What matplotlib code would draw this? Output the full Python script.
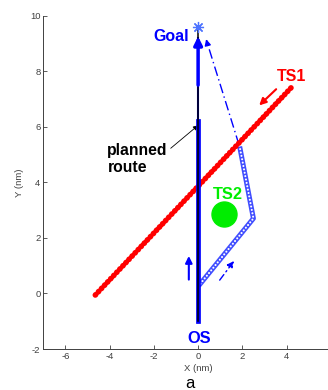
import matplotlib
matplotlib.use("Agg")
import matplotlib.pyplot as plt

plt.rcParams["font.family"] = ["Liberation Sans", "DejaVu Sans"]
plt.rcParams["axes.unicode_minus"] = False

# target ship 1: straight run, start / end positions (nm)
ts1_x = [4.2, -4.7]
ts1_y = [7.4, -0.1]

# target ship 2 (stationary)
ts2_x = [1.15]
ts2_y = [2.85]

# own ship: planned route, straight track, avoidance leg, return leg
goal = (0.0, 9.6)
plan_x = [0.0, 0.0]
plan_y = [-1.0, 9.6]
track_x = [0.0, 0.0, 0.0]
track_y = [-1.0, 6.2, 9.2]
avoid_x = [0.1, 2.5, 1.9]
avoid_y = [0.35, 2.7, 5.2]
back_x = [1.85, 0.38]
back_y = [5.35, 9.1]

xticks = [-6, -4, -2, 0, 2, 4]
yticks = [-2, 0, 2, 4, 6, 8, 10]

fig = plt.figure(figsize=(3.28, 3.9), dpi=100)
ax = fig.add_axes([0.132, 0.105, 0.944, 0.855])

blue = (0, 0, 1)
red = (1, 0, 0)
green = (0, 0.93, 0)

# TS1 track drawn as a chain of dots
ax.plot(ts1_x, ts1_y, color=red, lw=4.0, linestyle=(0, (0.1, 0.7)),
        dash_capstyle="round", zorder=3)

# avoidance manoeuvre, drawn as a band of small open circles
ax.plot(avoid_x, avoid_y, color=(0.25, 0.3, 1), lw=3.6,
        solid_joinstyle="round", zorder=2)
ax.plot(avoid_x, avoid_y, color="white", lw=1.5, linestyle=(0, (0.05, 1.6)),
        dash_capstyle="round", zorder=2)

# return leg towards the goal
ax.plot(back_x, back_y, color=blue, lw=1.0, linestyle=(0, (7, 2.5, 1, 2.5)), zorder=2)
ax.annotate("", xy=(back_x[1] - 0.05, back_y[1] + 0.15), xytext=(back_x[1] + 0.05, back_y[1] - 0.15),
            arrowprops=dict(arrowstyle="-|>", color=blue, lw=1.0, mutation_scale=9))

# own ship straight track + planned route
ax.plot(track_x[:2], track_y[:2], color=blue, lw=3.4, zorder=4)
ax.plot(track_x[1:], track_y[1:], color=blue, lw=1.5, zorder=4)
ax.plot(plan_x, plan_y, color="black", lw=1.1, zorder=5)
ax.plot([goal[0]], [goal[1]], marker=(8, 2, 0), color=(0.3, 0.45, 1), ms=8, mew=0.9, zorder=6)

# TS2
ax.plot(ts2_x, ts2_y, "o", color=green, ms=18, zorder=3)

# direction arrows
ax.annotate("", xy=(0, 9.35), xytext=(0, 7.4),
            arrowprops=dict(arrowstyle="-|>", color=blue, lw=2.5, mutation_scale=12), zorder=6)
ax.annotate("", xy=(-0.42, 1.45), xytext=(-0.42, 0.4),
            arrowprops=dict(arrowstyle="-|>", color=blue, lw=1.5, mutation_scale=10))
ax.annotate("", xy=(1.7, 1.25), xytext=(0.9, 0.4),
            arrowprops=dict(arrowstyle="-|>", color=blue, lw=1.0, mutation_scale=10,
                            linestyle=(0, (5, 2.5, 1, 2.5))))
ax.annotate("", xy=(2.67, 6.70), xytext=(3.62, 7.42),
            arrowprops=dict(arrowstyle="-|>", color=red, lw=1.5, mutation_scale=10))
ax.annotate("planned\nroute", xy=(0, 6.05), xytext=(-4.1, 4.85),
            fontsize=11.3, fontweight="bold", color="black", ha="left", va="center",
            linespacing=1.2,
            arrowprops=dict(arrowstyle="-|>", color="black", lw=0.6, mutation_scale=7,
                            shrinkA=0, shrinkB=0, relpos=(1.0, 0.75)))

# labels
ax.text(-0.42, 9.23, "Goal", color=blue, fontsize=11.5, fontweight="bold", ha="right", va="center")
ax.text(4.23, 7.8, "TS1", color=red, fontsize=11.5, fontweight="bold", ha="center", va="center")
ax.text(1.33, 3.57, "TS2", color=green, fontsize=11.8, fontweight="bold", ha="center", va="center")
ax.text(0.05, -1.62, "OS", color=blue, fontsize=11.8, fontweight="bold", ha="center", va="center")

ax.set_xlim(-7, 7)
ax.set_ylim(-2, 10)
ax.set_xticks(xticks)
ax.set_yticks(yticks)
ax.tick_params(direction="in", length=3, width=0.6, labelsize=6.8, colors="#404040", pad=2)
for side in ("top", "right"):
    ax.spines[side].set_visible(False)
for side in ("left", "bottom"):
    ax.spines[side].set_linewidth(0.7)
    ax.spines[side].set_color("#404040")
ax.set_xlabel("X (nm)", fontsize=6.8, color="#404040", labelpad=2)
ax.set_ylabel("Y (nm)", fontsize=6.8, color="#404040", labelpad=4)

fig.text(190 / 328, 1 - 383 / 390, "a", fontsize=12, ha="center", va="center")

fig.savefig("out.png", dpi=100)
